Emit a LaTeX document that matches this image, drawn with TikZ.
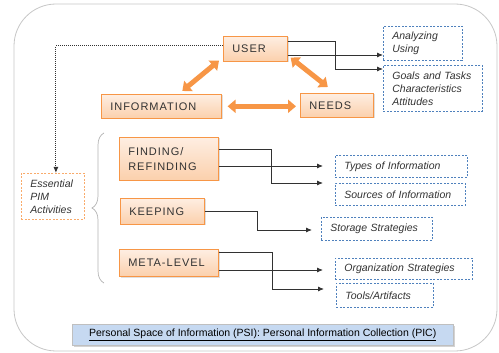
\documentclass[tikz,border=0pt]{standalone}
\usepackage{fontspec}
\setmainfont{Liberation Sans}
\newfontfamily\capsfont[LetterSpace=9]{Liberation Sans}
\usetikzlibrary{positioning}
\usetikzlibrary{shapes, arrows.meta, shadows, decorations.pathreplacing}
\definecolor{pimorange}{RGB}{247,150,70}
\definecolor{boxtop}{RGB}{254,238,226}
\definecolor{boxbot}{RGB}{251,208,172}
\definecolor{pimblue}{RGB}{79,129,189}
\definecolor{barblue}{RGB}{198,217,241}
\definecolor{textgray}{RGB}{50,50,50}

\begin{document}
\begin{tikzpicture}[x=1pt, y=-1pt, auto]
    \tikzstyle{block} = [draw=pimorange, line width=0.6pt, rectangle, anchor=north west,
    top color=boxtop, bottom color=boxbot, inner xsep=9pt, align=left, text=textgray,
    font=\capsfont\fontsize{11}{15}\selectfont,
    drop shadow={shadow xshift=1.2pt, shadow yshift=-1.2pt, opacity=0.25}];
    \tikzstyle{note} = [draw=pimblue, dash pattern=on 2pt off 1.5pt, line width=0.8pt, rectangle,
    anchor=north west, inner xsep=9pt, align=left, text=textgray,
    font=\itshape\fontsize{10.5}{13}\selectfont];
    \tikzstyle{line} = [draw=textgray, line width=0.8pt, -{Latex[length=6pt,width=5pt]}];
    \tikzstyle{fatarrow} = [draw=pimorange, line width=5pt,
    {Triangle[length=8pt,width=13pt]}-{Triangle[length=8pt,width=13pt]}];
    \useasboundingbox (0,0) rectangle (499,353);
    % outer frame
    \draw[gray!45, line width=0.8pt, rounded corners=42pt] (14,4) rectangle (497,351);
    % main concepts
    \node[block, text width=46pt, minimum height=25pt] (user) at (223,36) {USER};
    \node[block, text width=102pt, minimum height=24pt] (info) at (101,94) {INFORMATION};
    \node[block, text width=55pt, minimum height=24pt] (needs) at (300,93) {NEEDS};
    % activities
    \node[block, text width=81pt, minimum height=43pt] (find) at (119,137) {FINDING/\\REFINDING};
    \node[block, text width=66pt, minimum height=26pt] (keep) at (120,198) {KEEPING};
    \node[block, text width=81pt, minimum height=27pt] (meta) at (119,249) {META-LEVEL};
    \node[note, draw=pimorange!80, text width=45pt, minimum height=46pt] (ess) at (21,173) {Essential\\PIM\\Activities};
    % notes
    \node[note, text width=61pt, minimum height=34pt] (analyze) at (383,26) {Analyzing\\Using};
    \node[note, text width=81pt, minimum height=46pt] (goals) at (383,65) {Goals and Tasks\\Characteristics\\Attitudes};
    \node[note, text width=114pt, minimum height=22pt] (types) at (335,155) {Types of Information};
    \node[note, text width=112pt, minimum height=22pt] (sources) at (335,183) {Sources of Information};
    \node[note, text width=93pt, minimum height=23pt] (storage) at (321,217) {Storage Strategies};
    \node[note, text width=119pt, minimum height=21pt] (org) at (335,258) {Organization Strategies};
    \node[note, text width=79pt, minimum height=24pt] (tools) at (336,283) {Tools/Artifacts};
    % bottom bar
    \node[draw=gray!50, fill=barblue, anchor=north west, minimum width=381pt, minimum height=21pt,
    font=\fontsize{10.5}{12}\selectfont,
    drop shadow={shadow xshift=1.5pt, shadow yshift=-1.5pt, opacity=0.35}] (psi) at (72,324)
    {\underline{Personal Space of Information (PSI): Personal Information Collection (PIC)}};
    % orange arrows
    \draw[fatarrow] ([xshift=-4pt,yshift=1pt]user.south west) -- ([xshift=21pt,yshift=3pt]info.north);
    \draw[fatarrow] ([xshift=3pt,yshift=4pt]user.south east) -- ([xshift=-9pt,yshift=6pt]needs.north);
    \draw[fatarrow] ([xshift=6pt]info.east) -- ([xshift=-4pt]needs.west |- info.east);
    % connectors
    \draw[line] (user.east |- 0,41) -| (335,69) -- (goals.west |- 0,69);
    \draw[line] (user.east |- 0,55) -- (analyze.west |- 0,55);
    \draw[line, shorten >=12pt] (find.east |- 0,149) -| (271,183) -- (sources.west |- 0,183);
    \draw[line, shorten >=12pt] (find.east |- 0,166) -- (types.west |- 0,166);
    \draw[line, shorten >=9pt] (keep.east |- 0,211) -| (257,230) -- (storage.west |- 0,230);
    \draw[line, shorten >=12pt] (meta.east |- 0,252) -| (272,289) -- (tools.west |- 0,289);
    \draw[line, shorten >=12pt] (meta.east |- 0,270) -- (org.west |- 0,270);
    \draw[line, dash pattern=on 1pt off 1pt, line width=1pt] (user.west |- 0,46) -| ([xshift=3pt]ess.north);
    % brace
    \draw[gray!60, line width=0.7pt, decorate, decoration={brace, amplitude=12pt}] (104,283) -- (104,133);
\end{tikzpicture}
\end{document}
